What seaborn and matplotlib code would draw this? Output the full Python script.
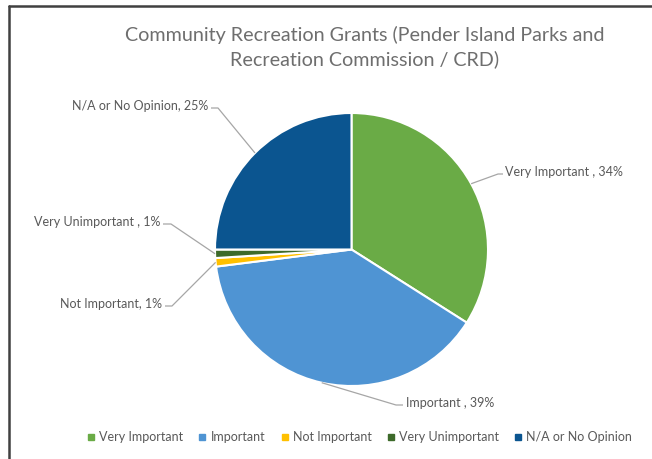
import matplotlib
matplotlib.use("Agg")
import matplotlib.pyplot as plt
from matplotlib.lines import Line2D
import numpy as np
import seaborn as sns

categories = ["Very Important", "Important", "Not Important", "Very Unimportant", "N/A or No Opinion"]
label_names = ["Very Important ", "Important ", "Not Important", "Very Unimportant ", "N/A or No Opinion"]
values = [34, 39, 1, 1, 25]
colors = ["#6AAB46", "#4F94D3", "#FFC000", "#3D6A2A", "#0B5590"]
title = "Community Recreation Grants (Pender Island Parks and\nRecreation Commission / CRD)"

sns.set_theme(style="white")
plt.rcParams['font.family'] = ['Lato', 'DejaVu Sans']

W, H = 652, 459
fig = plt.figure(figsize=(W / 100, H / 100), dpi=100)
ax = fig.add_axes([0, 0, 1, 1])

def Y(y):
    return H - y

cx, cy, R = 351.5, 249.5, 136.5
wedges, _ = ax.pie(values, colors=colors, startangle=90, counterclock=False,
                   center=(cx, Y(cy)), radius=R,
                   wedgeprops=dict(edgecolor="white", linewidth=1.5))
ax.set_xlim(0, W)
ax.set_ylim(0, H)
ax.set_aspect('auto')
ax.axis('off')

# label layout: elbow point, line end, text x, text y, alignment (pixel coords)
layout = [
    ((498, 174), (503, 174), 505, 172, 'left'),
    ((396, 405), (403, 405), 406, 403, 'left'),
    ((172, 306), (165, 306), 162, 304, 'right'),
    ((171, 224), (163, 224), 160, 222, 'right'),
    ((218, 108), (211, 108), 208, 106, 'right'),
]
line_col = "#A6A6A6"
text_col = "#595959"
for w, name, v, (elb, end, tx, ty, ha) in zip(wedges, label_names, values, layout):
    mid = np.deg2rad((w.theta1 + w.theta2) / 2)
    ex = w.center[0] + w.r * np.cos(mid)
    ey = w.center[1] + w.r * np.sin(mid)
    ax.plot([ex, elb[0], end[0]], [ey, Y(elb[1]), Y(end[1])], color=line_col, lw=0.9,
            solid_capstyle='butt')
    ax.text(tx, Y(ty), f"{name}, {v}%", ha=ha, va='center', fontsize=9, color=text_col)

fig.text(365 / W, 1 - 47 / H, title, ha='center', va='center', fontsize=14.2,
         color="#6E6E6E", linespacing=1.4)

handles = [Line2D([0], [0], marker='s', linestyle='', markersize=4.5,
                  markerfacecolor=c, markeredgecolor=c) for c in colors]
fig.legend(handles, categories, loc='center', bbox_to_anchor=(360 / W, 1 - 437 / H),
           ncol=5, frameon=False, fontsize=9, handlelength=0.5, handletextpad=0.4,
           columnspacing=1.3, labelcolor=text_col)

# frame border (top and left visible)
fig.add_artist(Line2D([8.5 / W, 1], [1 - 5.5 / H, 1 - 5.5 / H], color="#404040", lw=1.8,
                      transform=fig.transFigure))
fig.add_artist(Line2D([8.5 / W, 8.5 / W], [0, 1 - 5.5 / H], color="#404040", lw=1.8,
                      transform=fig.transFigure))

fig.savefig("out.png", dpi=100)
